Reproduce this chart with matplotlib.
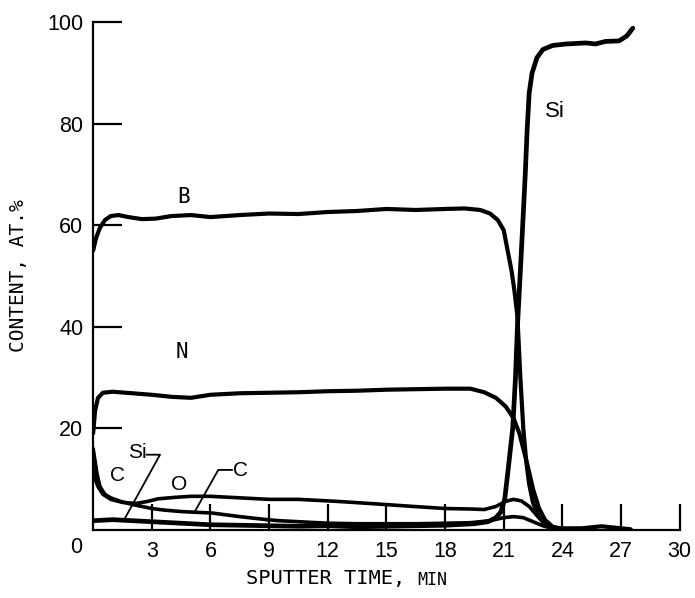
import matplotlib
matplotlib.use("Agg")
import matplotlib.pyplot as plt

# depth profile: sputter time (min) vs content (at.%)
b_t = [0, 0.15, 0.35, 0.6, 0.9, 1.3, 1.8, 2.5, 3.2, 4.0, 5.0, 6.0, 7.5, 9, 10.5, 12, 13.5, 15,
       16.5, 18, 19.0, 19.8, 20.3, 20.7, 21.0, 21.2, 21.4, 21.55, 21.7, 21.85, 22.0, 22.15, 22.3,
       22.5, 22.8, 23.2, 23.6, 24, 25, 26, 27, 27.5]
b_val = [55, 57.5, 59.5, 61, 61.8, 62, 61.6, 61.2, 61.3, 61.8, 62.0, 61.6, 62.0, 62.3, 62.2, 62.6,
         62.8, 63.2, 63.0, 63.2, 63.3, 63.0, 62.3, 61, 59, 55, 51, 47, 42, 30, 20, 13.5, 9,
         5.3, 2.5, 0.7, 0.4, 0.3, 0.3, 0.7, 0.3, 0.1]

n_t = [0, 0.1, 0.25, 0.5, 1.0, 2.0, 3.0, 4.0, 5.0, 6.0, 7.5, 9, 10.5, 12, 13.5, 15, 16.5, 18,
       19.3, 20.0, 20.6, 21.1, 21.5, 21.8, 22.2, 22.5, 22.8, 23.1, 23.5, 24]
n_val = [19, 23.5, 26, 27, 27.2, 26.9, 26.6, 26.2, 26.0, 26.6, 26.9, 27.0, 27.1, 27.3, 27.4, 27.6,
         27.7, 27.8, 27.8, 27.1, 26.0, 24.3, 22, 19, 13, 8, 4.3, 2, 0.6, 0.2]

si_t = [0, 1, 2, 3, 4.5, 6, 7.5, 9, 10.5, 12, 13.5, 15, 16.5, 18, 19.5, 20.2, 20.6, 20.85, 21.05,
        21.2, 21.46, 21.6, 21.7, 21.85, 21.97, 22.1, 22.2, 22.3, 22.45, 22.7, 23.0, 23.5, 24.2,
        24.7, 25.2, 25.7, 26.2, 26.9, 27.3, 27.6]
si_val = [1.8, 2.0, 1.8, 1.6, 1.3, 1.0, 0.9, 0.8, 0.7, 0.8, 0.6, 0.7, 0.8, 0.9, 1.2, 1.6, 2.4, 3.5,
          6, 11, 20, 30, 40, 51, 60, 70, 79, 86, 90, 93, 94.6, 95.4, 95.7, 95.8, 95.9, 95.7,
          96.2, 96.3, 97.3, 98.8]

o_t = [0, 0.1, 0.25, 0.5, 0.9, 1.5, 2.2, 2.8, 3.3, 4.2, 5.0, 6.0, 7.5, 9, 10.5, 12.5, 14.5, 16.4,
       18, 19.3, 20.0, 20.6, 21.1, 21.5, 21.9, 22.3, 22.7, 23.1, 23.5, 24]
o_val = [12, 10, 8.5, 7, 6.0, 5.4, 5.2, 5.6, 6.1, 6.4, 6.6, 6.6, 6.3, 6.0, 6.0, 5.6, 5.1, 4.6,
         4.2, 4.1, 4.0, 4.6, 5.6, 6.0, 5.7, 4.6, 2.8, 1.3, 0.5, 0.2]

c_t = [0, 0.08, 0.2, 0.35, 0.6, 0.9, 1.4, 2.0, 3.0, 3.6, 4.5, 6.1, 7.5, 8.9, 9.5, 10.5, 12, 13.5,
       15, 16.5, 18, 19.3, 20.3, 21.0, 21.5, 22.0, 22.5, 23.0, 23.5, 24]
c_val = [16, 14, 11, 8.5, 7.0, 6.3, 5.6, 5.0, 4.2, 3.9, 3.6, 3.3, 2.6, 2.0, 1.8, 1.6, 1.3, 1.2,
         1.2, 1.2, 1.3, 1.4, 1.8, 2.4, 2.6, 2.4, 1.6, 0.8, 0.3, 0.1]

x_ticks = [3, 6, 9, 12, 15, 18, 21, 24, 27, 30]
y_ticks = [20, 40, 60, 80, 100]

fig = plt.figure(figsize=(6.95, 5.98), dpi=100)
ax = fig.add_axes([0.134, 0.114, 0.844, 0.849])

kw = dict(color='black', solid_capstyle='round', solid_joinstyle='round')
ax.plot(b_t, b_val, lw=3.0, **kw)
ax.plot(n_t, n_val, lw=3.0, **kw)
ax.plot(si_t, si_val, lw=3.4, **kw)
ax.plot(o_t, o_val, lw=2.6, **kw)
ax.plot(c_t, c_val, lw=2.6, **kw)

ax.set_xlim(0, 30)
ax.set_ylim(0, 100)
for s in ['top', 'right']:
    ax.spines[s].set_visible(False)
for s in ['left', 'bottom']:
    ax.spines[s].set_linewidth(1.6)

ax.set_xticks(x_ticks)
ax.set_yticks(y_ticks)
ax.tick_params(axis='both', direction='in', width=1.6, labelsize=15.5)
ax.tick_params(axis='x', length=19, pad=8)
ax.tick_params(axis='y', length=21, pad=7)
for lab in ax.get_xticklabels() + ax.get_yticklabels():
    lab.set_fontfamily('Liberation Sans')
ax.annotate('0', xy=(0, 0), xycoords='data', xytext=(-12, -13), textcoords='offset points',
            ha='center', va='center', fontsize=15.5, family='Liberation Sans')

# axis titles
ax.set_ylabel('CONTENT, AT.%', family='DejaVu Sans Mono', fontsize=14, labelpad=14)
ax.text(16.6, -9.5, 'SPUTTER TIME, ', family='DejaVu Sans Mono', fontsize=14.7,
        ha='right', va='center')
ax.text(16.6, -9.8, 'MIN', family='DejaVu Sans Mono', fontsize=12, ha='left', va='center')

# curve labels
ax.text(4.6, 65.5, 'B', family='DejaVu Sans Mono', fontsize=15, ha='center', va='center')
ax.text(4.55, 35, 'N', family='DejaVu Sans Mono', fontsize=15, ha='center', va='center')
ax.text(23.6, 82.3, 'Si', family='Liberation Sans', fontsize=16, ha='center', va='center')
ax.text(1.25, 10.7, 'C', family='Liberation Sans', fontsize=15, ha='center', va='center')
ax.text(2.25, 15.3, 'Si', family='Liberation Sans', fontsize=15, ha='center', va='center')
ax.text(4.4, 8.9, 'O', family='Liberation Sans', fontsize=15, ha='center', va='center')
ax.text(7.55, 11.7, 'C', family='Liberation Sans', fontsize=15, ha='center', va='center')

# leader lines
ax.plot([2.74, 3.42, 1.63], [14.8, 14.8, 2.3], color='black', lw=1.3)
ax.plot([7.1, 6.4, 5.2], [11.8, 11.8, 3.6], color='black', lw=1.3)

fig.savefig('out.png', dpi=100)
